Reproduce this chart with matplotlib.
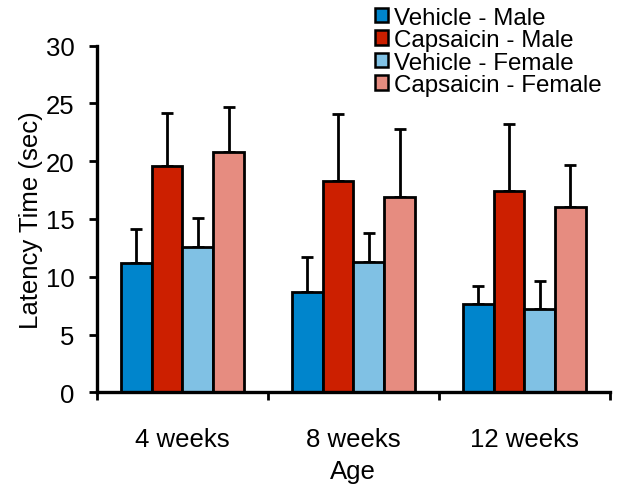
import numpy as np
import matplotlib
matplotlib.use("Agg")
import matplotlib.pyplot as plt

ages = ["4 weeks", "8 weeks", "12 weeks"]
groups = ["Vehicle - Male", "Capsaicin - Male", "Vehicle - Female", "Capsaicin - Female"]
colors = ["#0085cc", "#cc1f00", "#80c1e4", "#e68c80"]

vehicle_male = [11.2, 8.7, 7.6]
capsaicin_male = [19.6, 18.3, 17.4]
vehicle_female = [12.6, 11.3, 7.2]
capsaicin_female = [20.8, 16.9, 16.0]

vehicle_male_err = [2.9, 3.0, 1.6]
capsaicin_male_err = [4.6, 5.8, 5.8]
vehicle_female_err = [2.5, 2.5, 2.4]
capsaicin_female_err = [3.9, 5.9, 3.7]

means = [vehicle_male, capsaicin_male, vehicle_female, capsaicin_female]
errs = [vehicle_male_err, capsaicin_male_err, vehicle_female_err, capsaicin_female_err]

plt.rcParams["font.family"] = ["Liberation Sans", "DejaVu Sans"]
plt.rcParams["font.size"] = 18.5

fig = plt.figure(figsize=(6.21, 4.85), dpi=100)
ax = fig.add_axes([0.156, 0.189, 0.826, 0.715])

x = np.arange(len(ages))
w = 0.18
offsets = [-1.5 * w, -0.5 * w, 0.5 * w, 1.5 * w]
for m, e, c, lab, off in zip(means, errs, colors, groups, offsets):
    ax.bar(x + off, m, w, color=c, edgecolor="black", linewidth=2, label=lab, zorder=2)
    ax.errorbar(x + off, m, yerr=[np.zeros(len(m)), e], fmt="none", ecolor="black",
                elinewidth=2, capsize=4.5, capthick=2, zorder=1)

ax.set_xlim(-0.5, 2.5)
ax.set_ylim(0, 30)
ax.set_yticks(range(0, 31, 5))
ax.set_xticks(x)
ax.set_xticklabels(ages)
ax.set_xticks([-0.5, 0.5, 1.5, 2.5], minor=True)
ax.tick_params(axis="x", which="major", length=0, pad=25)
ax.tick_params(axis="x", which="minor", length=6, width=2, direction="out")
ax.tick_params(axis="y", length=6, width=2, direction="out", pad=10)

for s in ["top", "right"]:
    ax.spines[s].set_visible(False)
for s in ["left", "bottom"]:
    ax.spines[s].set_linewidth(2.4)

ax.set_ylabel("Latency Time (sec)", labelpad=2)
ax.set_xlabel("Age", labelpad=6)

leg = fig.legend(loc="upper right", bbox_to_anchor=(0.985, 1.004), frameon=False,
                 handlelength=0.55, handleheight=0.55, handletextpad=0.25,
                 labelspacing=0.02, borderaxespad=0, fontsize=17.4)
for h in leg.legend_handles:
    h.set_linewidth(1.8)

fig.savefig("out.png", dpi=100)
